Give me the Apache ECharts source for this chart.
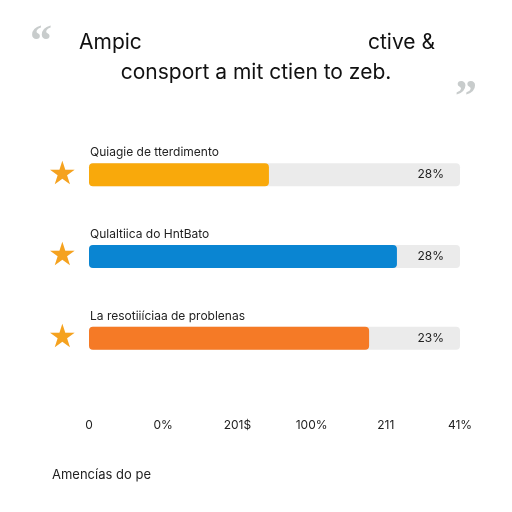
<!DOCTYPE html>
<html><head><meta charset="utf-8">
<script src="https://cdn.jsdelivr.net/npm/echarts@6/dist/echarts.min.js"></script>
<style>html,body{margin:0;padding:0;background:#fff}#c{width:512px;height:512px}</style>
</head><body><div id="c"></div>
<script>
const categories = ['Quiagie de tterdimento', 'Qulaltiica do HntBato', 'La resotiiíciaa de problenas'];
const values = [48.5, 83, 75.5];
const valueLabels = ['28%', '28%', '23%'];
const barColors = ['#F9A90B', '#0A85D2', '#F57A26'];
const tickLabels = ['0', '0%', '201$', '100%', '211', '41%'];

const chart = echarts.init(document.getElementById('c'), null, {renderer: 'canvas'});
const font = 'Inter, "Noto Sans", sans-serif';
chart.setOption({
  animation: false,
  backgroundColor: '#fff',
  grid: {left: 89, right: 52, top: 134, height: 245},
  xAxis: {
    type: 'value', min: 0, max: 100, interval: 20,
    splitLine: {show: false}, axisLine: {show: false}, axisTick: {show: false},
    axisLabel: {margin: 40, color: '#222', fontSize: 12, fontFamily: font,
      formatter: (v) => tickLabels[Math.round(v / 20)]}
  },
  yAxis: [
    {type: 'category', inverse: true, data: categories,
      axisLine: {show: false}, axisTick: {show: false},
      axisLabel: {inside: true, margin: 1, verticalAlign: 'bottom', padding: [0, 0, 16, 0],
        color: '#222', fontSize: 12, fontFamily: font}},
    {type: 'category', inverse: true, data: categories, position: 'left',
      axisLine: {show: false}, axisTick: {show: false},
      axisLabel: {margin: 12, color: '#F5A21F', fontSize: 32, formatter: () => '★'}},
    {type: 'category', inverse: true, data: valueLabels, position: 'right', z: 10,
      axisLine: {show: false}, axisTick: {show: false},
      axisLabel: {inside: true, margin: 16, color: '#222', fontSize: 12, fontFamily: font}}
  ],
  series: [{
    type: 'bar', yAxisIndex: 0, barWidth: 23,
    data: values.map((v, i) => ({value: v, itemStyle: {color: barColors[i]}})),
    itemStyle: {borderRadius: 4},
    showBackground: true,
    backgroundStyle: {color: '#EBEBEB', borderRadius: 4}
  }],
  graphic: [
    {type: 'text', left: 30, top: 22, style: {text: '“', fontSize: 44, fontWeight: 'bold', fill: '#C8CCCC', fontFamily: 'Georgia, serif'}},
    {type: 'text', left: 455, top: 77, style: {text: '”', fontSize: 44, fontWeight: 'bold', fill: '#C8CCCC', fontFamily: 'Georgia, serif'}},
    {type: 'text', left: 79, top: 32, style: {text: 'Ampic', fontSize: 21, fill: '#111', fontFamily: font}},
    {type: 'text', right: 77, top: 32, style: {text: 'ctive &', fontSize: 21, fill: '#111', fontFamily: font}},
    {type: 'text', left: 'center', top: 62, style: {text: 'consport a mit ctien to zeb.', fontSize: 21, fill: '#111', fontFamily: font}},
    {type: 'text', left: 52, top: 469, style: {text: 'Amencías do pe', fontSize: 13, fill: '#222', fontFamily: font}}
  ]
});
</script></body></html>
